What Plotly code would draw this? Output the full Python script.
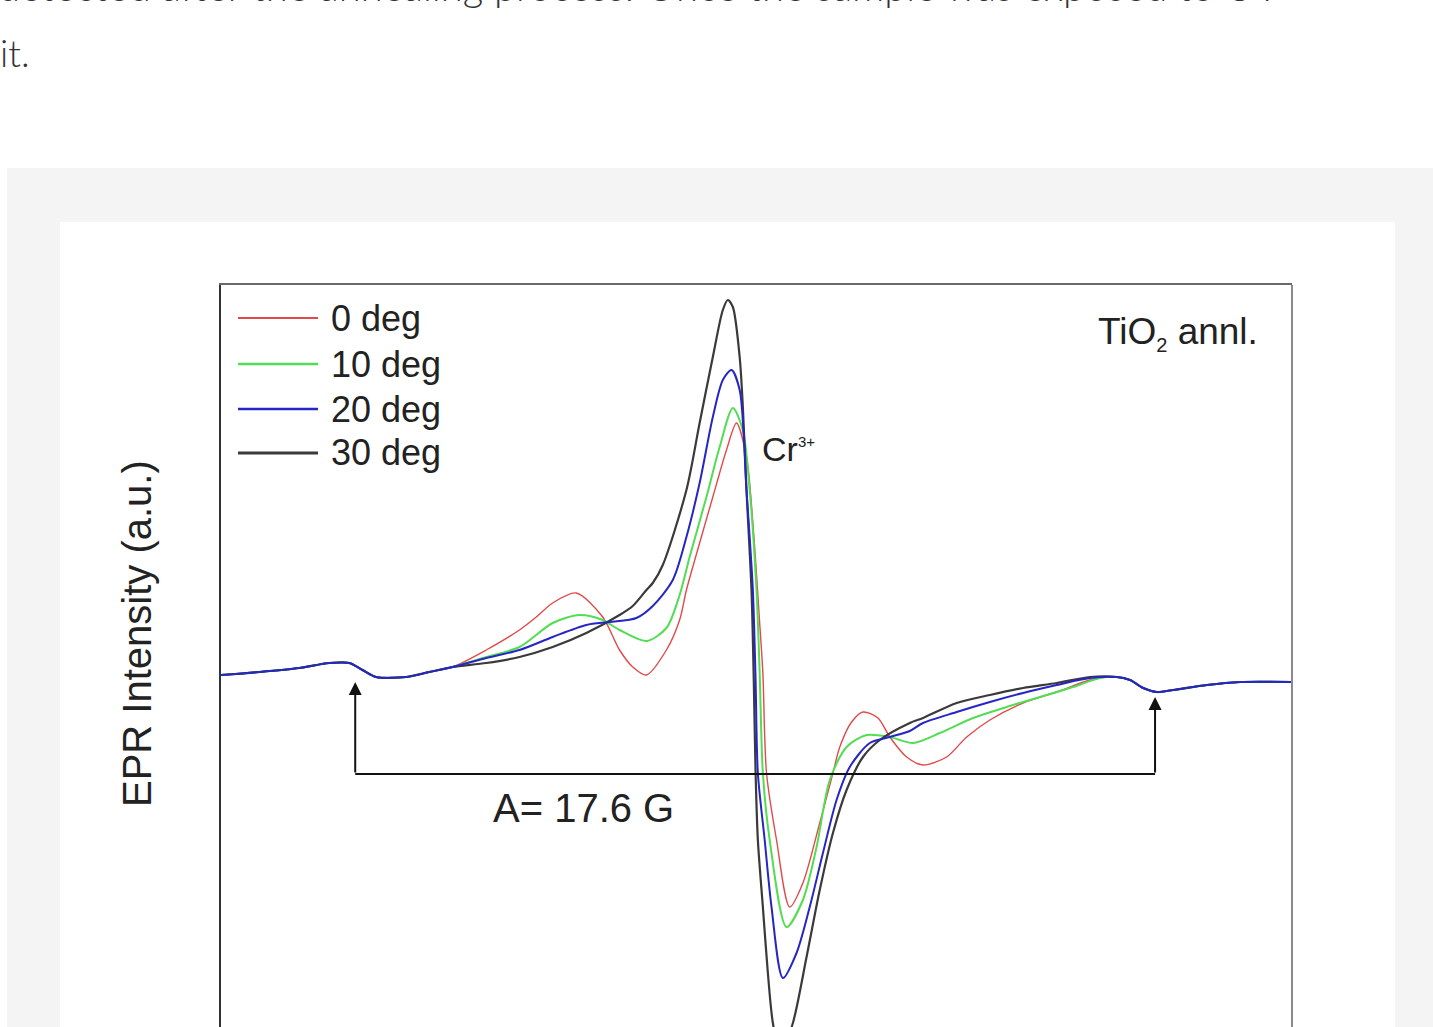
import plotly.graph_objects as go

W, H = 1433, 1027

# ---- data (field offset in G, EPR intensity in a.u.) ----
base_left_x = [-11.84, -11.00, -10.12, -9.46, -9.02, -8.73, -8.43, -7.77, -7.26, -6.75]
base_left_y = [0.05, 0.08, 0.12, 0.17, 0.17, 0.10, 0.03, 0.03, 0.08, 0.13]
base_right_x = [7.85, 8.14, 8.43, 8.73, 9.09, 9.83, 10.56, 11.68]
base_right_y = [0.03, 0.00, -0.08, -0.12, -0.10, -0.05, -0.02, -0.02]

red_x = [-6.01, -5.28, -4.91, -4.55, -4.03, -3.45, -3.08, -2.79, -2.49, -2.05, -1.76, -1.61, -1.32,
         -1.03, -0.73, -0.51, -0.29, -0.15, 0.00, 0.07, 0.15, 0.37, 0.66, 0.95, 1.32, 1.61, 1.76,
         2.02, 2.27, 2.60, 2.86, 3.23, 3.59, 4.11, 4.55, 5.06, 5.79, 6.53, 7.26]
red_y = [0.30, 0.50, 0.63, 0.77, 0.87, 0.63, 0.30, 0.13, 0.05, 0.30, 0.60, 0.90, 1.37,
         1.83, 2.30, 2.57, 2.23, 1.57, 0.57, 0.07, -0.93, -1.60, -2.27, -2.03, -1.43, -0.93, -0.67,
         -0.42, -0.32, -0.38, -0.57, -0.77, -0.85, -0.77, -0.57, -0.40, -0.23, -0.12, 0.00]

green_x = [-6.01, -5.28, -4.55, -3.96, -3.45, -3.08, -2.49, -2.05, -1.76, -1.54, -1.17, -0.88, -0.59,
           -0.37, -0.22, -0.07, 0.00, 0.07, 0.22, 0.59, 0.95, 1.25, 1.54, 1.91, 2.35, 2.86, 3.37,
           3.96, 4.69, 5.43, 6.16, 6.89, 7.48]
green_y = [0.23, 0.33, 0.57, 0.65, 0.60, 0.50, 0.39, 0.52, 0.85, 1.23, 1.83, 2.33, 2.72,
           2.50, 1.90, 0.90, 0.07, -0.93, -1.60, -2.47, -2.20, -1.67, -1.00, -0.67, -0.55, -0.57, -0.63,
           -0.53, -0.38, -0.27, -0.17, -0.07, 0.02]

blue_x = [-6.01, -5.28, -4.55, -3.81, -3.30, -2.71, -2.35, -1.91, -1.61, -1.32, -1.03, -0.81, -0.62,
          -0.44, -0.29, -0.15, -0.09, -0.04, 0.11, 0.26, 0.51, 0.81, 1.10, 1.39, 1.69, 1.98, 2.42,
          2.86, 3.30, 3.59, 4.33, 5.06, 5.79, 6.53, 7.26]
blue_y = [0.22, 0.30, 0.43, 0.55, 0.58, 0.62, 0.74, 1.00, 1.43, 1.97, 2.63, 3.00, 3.10,
          2.90, 1.90, 0.90, 0.00, -0.93, -1.60, -2.27, -2.98, -2.73, -2.27, -1.73, -1.20, -0.87, -0.63,
          -0.57, -0.51, -0.43, -0.32, -0.22, -0.13, -0.05, 0.02]

black_x = [-6.01, -5.28, -4.55, -3.81, -3.08, -2.79, -2.49, -2.35, -2.13, -1.61, -1.32, -1.03, -0.81,
           -0.70, -0.59, -0.44, -0.37, -0.29, -0.18, -0.13, -0.09, -0.04, 0.07, 0.18, 0.29, 0.46,
           0.73, 1.03, 1.32, 1.61, 1.91, 2.27, 2.64, 3.30, 3.59, 4.33, 5.06, 5.79, 6.53, 7.26]
black_y = [0.17, 0.23, 0.33, 0.47, 0.65, 0.74, 0.90, 0.97, 1.15, 1.90, 2.57, 3.23, 3.70,
           3.80, 3.73, 3.23, 2.73, 1.90, 0.90, 0.00, -0.93, -1.60, -2.27, -2.93, -3.43, -3.75,
           -3.43, -2.77, -2.10, -1.53, -1.10, -0.77, -0.60, -0.43, -0.38, -0.23, -0.15, -0.08, -0.03, 0.03]

series_names = ["0 deg", "10 deg", "20 deg", "30 deg"]
series_colors = ["#e04a4a", "#52dd52", "#2626c4", "#3a3a3a"]
series_widths = [1.4, 2.0, 2.0, 2.2]
series_x = [red_x, green_x, blue_x, black_x]
series_y = [red_y, green_y, blue_y, black_y]

# hyperfine markers
hf_left_x, hf_right_x = -8.89, 8.69
hf_left_tip, hf_right_tip = -0.02, -0.17
hf_bar_y = -0.94

x_range = [-11.84, 11.70]
y_range = [-3.47, 3.95]

FONT = "Liberation Sans, Arial, sans-serif"


def px(x):
    return x / W


def py(y):
    return 1 - y / H


fig = go.Figure()
draw_order = [0, 1, 3, 2]
for i in draw_order:
    fig.add_trace(go.Scatter(
        x=base_left_x + series_x[i] + base_right_x,
        y=base_left_y + series_y[i] + base_right_y,
        mode="lines", name=series_names[i], showlegend=False,
        line=dict(color=series_colors[i], width=series_widths[i], shape="spline", smoothing=0.8),
    ))

shapes = [
    dict(type="rect", xref="paper", yref="paper", x0=px(7), x1=1.0, y0=0, y1=py(168),
         fillcolor="#f4f4f4", line=dict(width=0), layer="below"),
    dict(type="rect", xref="paper", yref="paper", x0=px(60), x1=px(1395), y0=0, y1=py(222),
         fillcolor="#ffffff", line=dict(width=0), layer="below"),
    dict(type="line", xref="x", yref="y", x0=hf_left_x, x1=hf_right_x, y0=hf_bar_y, y1=hf_bar_y,
         line=dict(color="#111111", width=2)),
    # right frame edge (lighter than left)
    dict(type="line", xref="paper", yref="paper", x0=px(1292), x1=px(1292), y0=0, y1=py(285),
         line=dict(color="#8a8a8a", width=2)),
]

annotations = []
# arrows
for hx, tip in [(hf_left_x, hf_left_tip), (hf_right_x, hf_right_tip)]:
    annotations.append(dict(x=hx, y=tip, ax=hx, ay=hf_bar_y, xref="x", yref="y", axref="x", ayref="y",
                            text="", showarrow=True, arrowhead=2, arrowsize=1.3, arrowwidth=2,
                            arrowcolor="#111111", standoff=0))

# manual legend
leg_y = [318, 364, 409, 453]
for i in range(4):
    shapes.append(dict(type="line", xref="paper", yref="paper", x0=px(238), x1=px(318),
                       y0=py(leg_y[i]), y1=py(leg_y[i]),
                       line=dict(color=series_colors[i], width=series_widths[i] + 0.6)))
    annotations.append(dict(x=px(329), y=py(leg_y[i]), xref="paper", yref="paper", text=series_names[i],
                            showarrow=False, xanchor="left", yanchor="middle",
                            font=dict(family=FONT, size=36, color="#222222")))

annotations += [
    dict(x=px(1260), y=py(333), xref="paper", yref="paper",
         text="TiO<sub><span style='font-size:20px'>2</span></sub> annl.",
         showarrow=False, xanchor="right", yanchor="middle",
         font=dict(family=FONT, size=37, color="#222222")),
    dict(x=px(760), y=py(449), xref="paper", yref="paper",
         text="Cr<sup><span style='font-size:15px'>3+</span></sup>",
         showarrow=False, xanchor="left", yanchor="middle",
         font=dict(family=FONT, size=34, color="#222222")),
    dict(x=px(583), y=py(808), xref="paper", yref="paper", text="A= 17.6 G",
         showarrow=False, xanchor="center", yanchor="middle",
         font=dict(family=FONT, size=40, color="#222222")),
    dict(x=px(137), y=py(634), xref="paper", yref="paper", text="EPR Intensity (a.u.)",
         showarrow=False, xanchor="center", yanchor="middle", textangle=-90,
         font=dict(family=FONT, size=40, color="#222222")),
    # surrounding page text
    dict(x=px(-4), y=py(-14), xref="paper", yref="paper",
         text="detected after the annealing process. Once the sample was exposed to UV",
         showarrow=False, xanchor="left", yanchor="middle",
         font=dict(family="Lato", size=40, color="#333333", weight=300)),
    dict(x=px(-2), y=py(52), xref="paper", yref="paper", text="it.",
         showarrow=False, xanchor="left", yanchor="middle",
         font=dict(family="Lato", size=37, color="#333333", weight=300)),
]

fig.update_layout(
    width=W, height=H,
    margin=dict(l=0, r=0, t=0, b=0),
    paper_bgcolor="#ffffff", plot_bgcolor="rgba(0,0,0,0)",
    shapes=shapes, annotations=annotations, showlegend=False,
    xaxis=dict(domain=[px(221), px(1292)], range=x_range, showticklabels=False, ticks="",
               showgrid=False, zeroline=False, showline=True, side="top",
               linecolor="#6a6a6a", linewidth=2),
    yaxis=dict(domain=[0, py(285)], range=y_range, showticklabels=False, ticks="",
               showgrid=False, zeroline=False, showline=True, mirror=False,
               linecolor="#333333", linewidth=2),
)

fig.write_html("out.html")
